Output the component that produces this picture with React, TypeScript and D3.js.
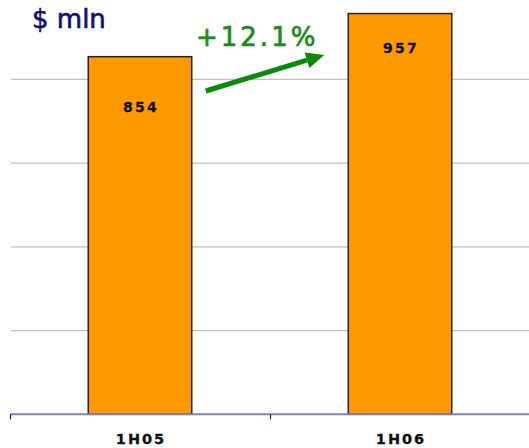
import React from "react";
import * as d3 from "d3";

// Half-year revenue, $ mln
const categories: string[] = ["1H05", "1H06"];
const values: number[] = [854, 957];
const gridTicks: number[] = [200, 400, 600, 800];
const growthLabel = "+12.1%";
const unitLabel = "$ mln";

const W = 529;
const H = 448;

export default function App() {
  const x = d3.scaleBand<string>().domain(categories).range([10, 530]).padding(0);
  const y = d3.scaleLinear().domain([0, 1000]).range([414.3, -4.45]);
  const barW = x.bandwidth() * 0.398;
  const labelDy = [55, 39];

  // growth arrow between the two bars
  const x0 = (x(categories[0]) ?? 0) + x.bandwidth() / 2 + barW / 2 + 14;
  const x1 = (x(categories[1]) ?? 0) + x.bandwidth() / 2 - barW / 2 - 24;
  const ay0 = 91;
  const ay1 = 55;
  const ang = Math.atan2(ay1 - ay0, x1 - x0);
  const headLen = 18;
  const headHalf = 8;
  const bx = x1 - headLen * Math.cos(ang);
  const by = ay1 - headLen * Math.sin(ang);
  const px = -Math.sin(ang);
  const py = Math.cos(ang);
  const head = [
    [x1, ay1],
    [bx + px * headHalf, by + py * headHalf],
    [bx - px * headHalf, by - py * headHalf],
  ]
    .map((p) => p.join(","))
    .join(" ");

  return (
    <svg
      width={W}
      height={H}
      style={{ position: "absolute", left: 0, top: 0, background: "#fff" }}
      fontFamily="'DejaVu Sans', Verdana, sans-serif"
    >
      {gridTicks.map((t) => (
        <line key={t} x1={11} x2={W} y1={y(t)} y2={y(t)} stroke="#c0c0c0" strokeWidth={1.2} />
      ))}

      {categories.map((c, i) => {
        const cx = (x(c) ?? 0) + x.bandwidth() / 2;
        return (
          <g key={c}>
            <rect
              x={cx - barW / 2}
              y={y(values[i])}
              width={barW}
              height={y(0) - y(values[i])}
              fill="#ff9900"
              stroke="#222"
              strokeWidth={1.5}
            />
            <text
              x={cx + 1}
              y={y(values[i]) + labelDy[i]}
              textAnchor="middle"
              fontSize={14}
              fontWeight="bold"
              letterSpacing={2.2}
              fill="#111"
              stroke="#111"
              strokeWidth={0.3}
            >
              {values[i]}
            </text>
            <text
              x={cx + 1}
              y={444}
              textAnchor="middle"
              fontSize={14.5}
              fontWeight="bold"
              letterSpacing={2}
              fill="#111"
              stroke="#111"
              strokeWidth={0.3}
            >
              {c}
            </text>
          </g>
        );
      })}

      {/* category axis */}
      <line x1={10} x2={W} y1={y(0)} y2={y(0)} stroke="#8080c4" strokeWidth={2} />
      {[10, 270].map((t) => (
        <line key={t} x1={t + 0.5} x2={t + 0.5} y1={y(0)} y2={y(0) + 5} stroke="#1a1a80" strokeWidth={1.2} />
      ))}

      <text x={32} y={28} fontSize={26} fill="#0e0e78" stroke="#0e0e78" strokeWidth={0.6}>
        {unitLabel}
      </text>

      <line x1={x0} y1={ay0} x2={bx} y2={by} stroke="#0a8a0a" strokeWidth={5} />
      <polygon points={head} fill="#0a8a0a" />
      <text x={196} y={46} fontSize={26} fill="#1a8c1a" stroke="#1a8c1a" strokeWidth={0.7} letterSpacing={3}>
        {growthLabel}
      </text>
    </svg>
  );
}
